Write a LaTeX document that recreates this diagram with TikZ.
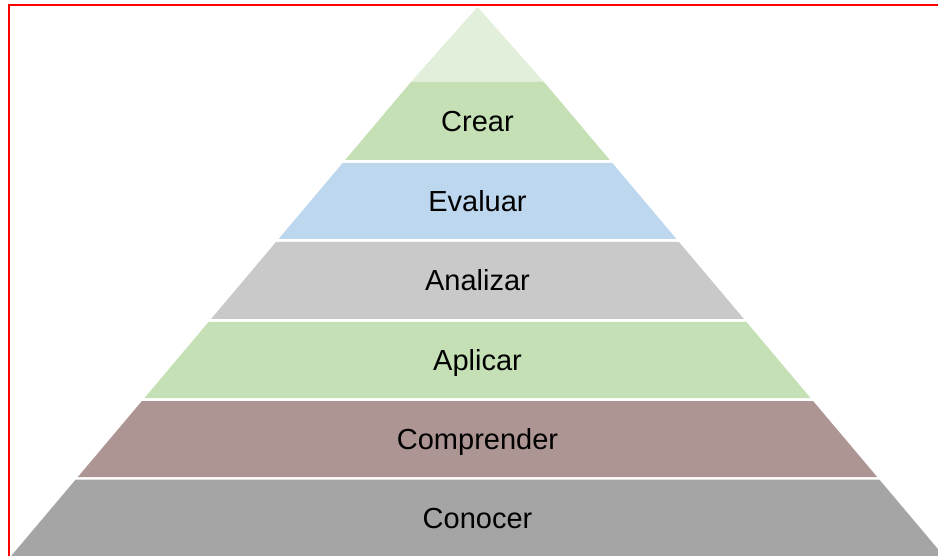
\documentclass[tikz,border=0pt]{standalone}
\usepackage{fontspec}
\setmainfont{Liberation Sans}
\usepackage{tikz}
\usetikzlibrary{positioning}
\definecolor{tipgreen}{RGB}{226,239,218}
\definecolor{levelgreen}{RGB}{197,224,180}
\definecolor{levelblue}{RGB}{189,215,238}
\definecolor{levelgrey}{RGB}{201,201,201}
\definecolor{levelrose}{RGB}{173,149,147}
\definecolor{leveldark}{RGB}{165,165,165}

\begin{document}
\begin{tikzpicture}[x=1pt,y=-1pt,
  level label/.style={font=\fontsize{29}{34}\selectfont,text=black,
    inner sep=0pt,text height=20.8pt,text depth=0pt}]
  \useasboundingbox (0,0) rectangle (938,556);
  \clip (0,0) rectangle (938,556);
  \draw[red,line width=1.6pt] (9,5) rectangle (960,580);

  % top of the pyramid
  \fill[tipgreen] (477.5,7) -- (543.8,81.7) -- (411.2,81.7) -- cycle;

  % the levels
  \foreach \ytop/\ybot/\col/\txt/\name in {
      81.7/160/levelgreen/Crear/crear,
      163/239/levelblue/Evaluar/evaluar,
      242/319/levelgrey/Analizar/analizar,
      322/398/levelgreen/Aplicar/aplicar,
      401/477/levelrose/Comprender/comprender,
      479.5/556/leveldark/Conocer/conocer} {
    \pgfmathsetmacro\wt{0.8434*(\ytop-3.1)}
    \pgfmathsetmacro\wb{0.8434*(\ybot-3.1)}
    \fill[\col] (477.5-\wt,\ytop) -- (477.5+\wt,\ytop)
      -- (477.5+\wb,\ybot) -- (477.5-\wb,\ybot) -- cycle;
    \node[level label] (\name) at (477.5,{(\ytop+\ybot)/2}) {\txt};
  }
\end{tikzpicture}
\end{document}
